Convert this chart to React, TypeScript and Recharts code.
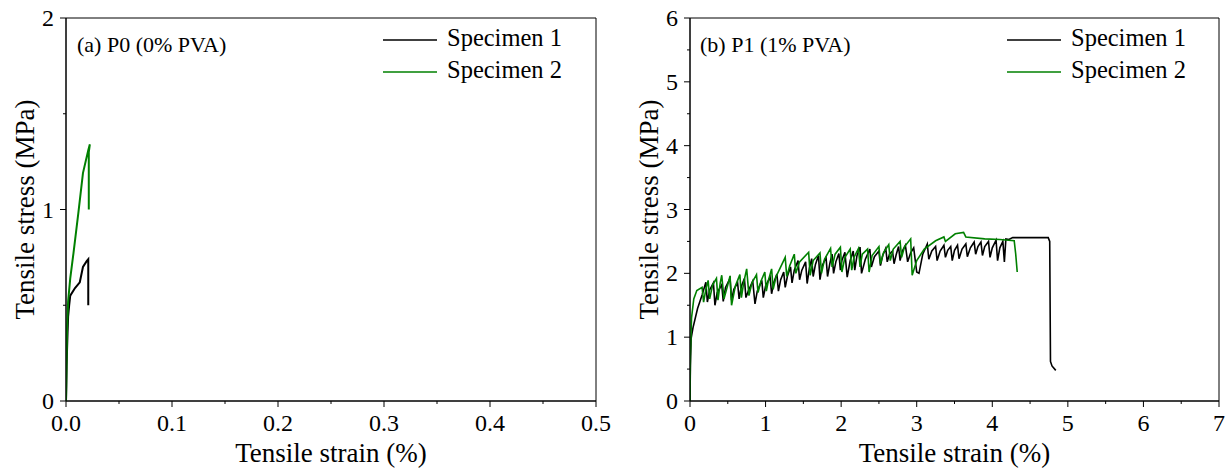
import React from 'react'
import { LineChart, Line, XAxis, YAxis, ReferenceArea } from 'recharts'

const FONT = '"Liberation Serif", "Times New Roman", serif'
const BLACK = '#000000'
const GREEN = '#008000'

const seriesNames = ['Specimen 1', 'Specimen 2']
const panelTitles = ['(a) P0 (0% PVA)', '(b) P1 (1% PVA)']

// [tensile strain (%), tensile stress (MPa)]
const p0Specimen1 = [
  [0, 0], [0.0003, 0.08], [0.0006, 0.18], [0.001, 0.27], [0.0015, 0.36], [0.002, 0.44],
  [0.003, 0.5], [0.004, 0.55], [0.0085, 0.59], [0.013, 0.62], [0.016, 0.7],
  [0.0195, 0.73], [0.021, 0.74], [0.021, 0.5],
]
const p0Specimen2 = [
  [0, 0], [0.0005, 0.2], [0.001, 0.38], [0.002, 0.52], [0.004, 0.64], [0.007, 0.77],
  [0.0116, 0.98], [0.016, 1.19], [0.021, 1.31], [0.0225, 1.34], [0.0215, 1.3], [0.0215, 1.0],
]
const p1Specimen1 = [
  [0, 0], [0.005, 0.55], [0.015, 0.98], [0.04, 1.15], [0.1, 1.45], [0.16, 1.66], [0.21, 1.86],
  [0.23, 1.55], [0.26, 1.74], [0.31, 1.85], [0.33, 1.5], [0.36, 1.7], [0.42, 1.82],
  [0.44, 1.56], [0.47, 1.78], [0.53, 1.92], [0.55, 1.58], [0.58, 1.75], [0.63, 1.85],
  [0.65, 1.6], [0.68, 1.8], [0.72, 1.92], [0.74, 1.62], [0.77, 1.72], [0.83, 1.88],
  [0.86, 1.52], [0.89, 1.72], [0.95, 1.89], [0.97, 1.62], [1.0, 1.8], [1.06, 1.94],
  [1.08, 1.68], [1.11, 1.86], [1.15, 1.99], [1.17, 1.72], [1.2, 1.9], [1.24, 2.02],
  [1.26, 1.78], [1.29, 1.96], [1.33, 2.1], [1.35, 1.85], [1.38, 2.05], [1.43, 2.2],
  [1.45, 1.9], [1.48, 2.05], [1.53, 2.18], [1.55, 1.84], [1.58, 2.08], [1.61, 2.23],
  [1.63, 1.95], [1.66, 2.14], [1.7, 2.28], [1.72, 1.9], [1.75, 2.12], [1.8, 2.25],
  [1.82, 1.95], [1.85, 2.15], [1.88, 2.3], [1.9, 2.0], [1.93, 2.18], [1.97, 2.31],
  [1.99, 2.05], [2.01, 2.2], [2.05, 2.33], [2.08, 1.94], [2.12, 2.2], [2.16, 2.35],
  [2.18, 2.05], [2.21, 2.28], [2.25, 2.41], [2.27, 2.0], [2.32, 2.22], [2.38, 2.38],
  [2.4, 2.1], [2.44, 2.26], [2.5, 2.35], [2.52, 2.12], [2.55, 2.28], [2.59, 2.39],
  [2.61, 2.18], [2.64, 2.3], [2.68, 2.35], [2.7, 2.15], [2.73, 2.3], [2.76, 2.42],
  [2.78, 2.2], [2.81, 2.35], [2.85, 2.44], [2.88, 2.18], [2.92, 2.32], [2.96, 2.4],
  [3.0, 2.02], [3.03, 2.0], [3.08, 2.3], [3.14, 2.46], [3.16, 2.22], [3.2, 2.35],
  [3.25, 2.42], [3.27, 2.2], [3.31, 2.35], [3.36, 2.44], [3.38, 2.25], [3.41, 2.36],
  [3.45, 2.42], [3.47, 2.2], [3.5, 2.36], [3.54, 2.44], [3.56, 2.23], [3.6, 2.38],
  [3.65, 2.46], [3.67, 2.26], [3.71, 2.4], [3.76, 2.49], [3.78, 2.3], [3.81, 2.42],
  [3.85, 2.49], [3.87, 2.28], [3.9, 2.42], [3.95, 2.5], [3.97, 2.25], [4.0, 2.4],
  [4.05, 2.52], [4.07, 2.2], [4.1, 2.4], [4.14, 2.5], [4.16, 2.18], [4.18, 2.54],
  [4.22, 2.53], [4.27, 2.56], [4.5, 2.56], [4.74, 2.56], [4.76, 2.5], [4.77, 0.62],
  [4.79, 0.55], [4.84, 0.48],
]
const p1Specimen2 = [
  [0, 0], [0.005, 0.7], [0.02, 1.3], [0.05, 1.6], [0.09, 1.73], [0.16, 1.78],
  [0.18, 1.55], [0.21, 1.75], [0.24, 1.89], [0.26, 1.6], [0.3, 1.82], [0.35, 1.92],
  [0.37, 1.58], [0.4, 1.85], [0.42, 1.97], [0.45, 1.6], [0.5, 1.82], [0.53, 1.96],
  [0.55, 1.5], [0.6, 1.8], [0.66, 1.98], [0.68, 1.62], [0.71, 1.85], [0.75, 2.07],
  [0.78, 1.65], [0.82, 1.85], [0.88, 1.98], [0.9, 1.7], [0.94, 1.88], [0.99, 2.02],
  [1.01, 1.72], [1.04, 1.9], [1.08, 2.07], [1.1, 1.75], [1.14, 1.95], [1.2, 2.1],
  [1.26, 2.25], [1.28, 1.95], [1.32, 2.12], [1.38, 2.3], [1.4, 2.0], [1.45, 2.18],
  [1.57, 2.33], [1.59, 1.97], [1.63, 2.2], [1.72, 2.32], [1.74, 2.0], [1.78, 2.22],
  [1.86, 2.39], [1.88, 2.1], [1.92, 2.3], [1.99, 2.41], [2.01, 2.02], [2.05, 2.25],
  [2.12, 2.38], [2.14, 2.05], [2.17, 2.25], [2.23, 2.39], [2.25, 2.1], [2.28, 2.3],
  [2.35, 2.38], [2.37, 2.02], [2.41, 2.28], [2.5, 2.42], [2.52, 2.15], [2.56, 2.32],
  [2.63, 2.45], [2.65, 2.2], [2.69, 2.38], [2.78, 2.5], [2.8, 2.25], [2.84, 2.42],
  [2.92, 2.54], [2.94, 1.97], [3.0, 2.2], [3.1, 2.38], [3.25, 2.51], [3.36, 2.57],
  [3.38, 2.5], [3.51, 2.62], [3.62, 2.64], [3.65, 2.57], [3.9, 2.54], [4.1, 2.53],
  [4.29, 2.51], [4.31, 2.3], [4.33, 2.02],
]

const p0StrainTicks = [0, 0.05, 0.1, 0.15, 0.2, 0.25, 0.3, 0.35, 0.4, 0.45, 0.5]
const p0StressTicks = [0, 0.5, 1, 1.5, 2]
const p1StrainTicks = [0, 0.5, 1, 1.5, 2, 2.5, 3, 3.5, 4, 4.5, 5, 5.5, 6, 6.5, 7]
const p1StressTicks = [0, 0.5, 1, 1.5, 2, 2.5, 3, 3.5, 4, 4.5, 5, 5.5, 6]

const toPoints = (rows: number[][]) => rows.map(([strain, stress]) => ({ strain, stress }))

const isMultiple = (v: number, step: number) => Math.abs(v / step - Math.round(v / step)) < 1e-6

const textStyle = { fontFamily: FONT }

const makeXTick = (step: number, digits: number) => (props: any) => {
  const { x, y, payload, index } = props
  const major = isMultiple(payload.value, step)
  return (
    <g key={`xt-${index}`}>
      <line x1={x} x2={x} y1={y} y2={y + (major ? 6 : 3)} stroke={BLACK} />
      {major && (
        <text x={x} y={y + 30} textAnchor="middle" fontSize={24} style={textStyle} fill={BLACK}>
          {payload.value.toFixed(digits)}
        </text>
      )}
    </g>
  )
}

const yTick = (props: any) => {
  const { x, y, payload, index } = props
  const major = isMultiple(payload.value, 1)
  return (
    <g key={`yt-${index}`}>
      <line x1={x} x2={x - (major ? 6 : 3)} y1={y} y2={y} stroke={BLACK} />
      {major && (
        <text x={x - 12} y={y + 8} textAnchor="end" fontSize={24} style={textStyle} fill={BLACK}>
          {payload.value}
        </text>
      )}
    </g>
  )
}

const xTitle = (props: any) => {
  const vb = props.viewBox
  return (
    <text x={vb.x + vb.width / 2} y={vb.y + 61} textAnchor="middle" fontSize={27} style={textStyle} fill={BLACK}>
      Tensile strain (%)
    </text>
  )
}

const yTitle = (props: any) => {
  const vb = props.viewBox
  const cx = vb.x + vb.width - 32
  const cy = vb.y + vb.height / 2
  return (
    <text
      x={cx}
      y={cy}
      transform={`rotate(-90 ${cx} ${cy})`}
      textAnchor="middle"
      fontSize={27}
      style={textStyle}
      fill={BLACK}
    >
      Tensile stress (MPa)
    </text>
  )
}

function Overlay({ title, titleX, legendX }: { title: string; titleX: number; legendX: number }) {
  return (
    <svg
      width="100%"
      height="100%"
      style={{ position: 'absolute', left: 0, top: 0, pointerEvents: 'none' }}
    >
      <text x={titleX} y={52} fontSize={22} style={textStyle} fill={BLACK}>
        {title}
      </text>
      {seriesNames.map((name, i) => (
        <g key={name}>
          <line
            x1={legendX}
            x2={legendX + 54}
            y1={40 + i * 32}
            y2={40 + i * 32}
            stroke={i === 0 ? BLACK : GREEN}
            strokeWidth={1.5}
          />
          <text x={legendX + 64} y={46 + i * 32} fontSize={24.5} style={textStyle} fill={BLACK}>
            {name}
          </text>
        </g>
      ))}
    </svg>
  )
}

function Panel({
  width,
  yAxisWidth,
  rightMargin,
  xMax,
  yMax,
  xTicks,
  yTicks,
  xStep,
  xDigits,
  series,
  lineWidth,
  title,
  titleX,
  legendX,
}: any) {
  return (
    <div style={{ position: 'relative', width, height: 470, flexShrink: 0 }}>
      <LineChart width={width} height={470} margin={{ top: 18, right: rightMargin, bottom: 2, left: 0 }}>
        <XAxis
          dataKey="strain"
          type="number"
          domain={[0, xMax]}
          ticks={xTicks}
          interval={0}
          allowDataOverflow
          height={67}
          tickSize={0}
          tickMargin={0}
          tickLine={false}
          tick={makeXTick(xStep, xDigits)}
          axisLine={{ stroke: BLACK }}
          label={xTitle}
        />
        <YAxis
          type="number"
          domain={[0, yMax]}
          ticks={yTicks}
          interval={0}
          allowDataOverflow
          width={yAxisWidth}
          tickSize={0}
          tickMargin={0}
          tickLine={false}
          tick={yTick}
          axisLine={{ stroke: BLACK }}
          label={yTitle}
        />
        <ReferenceArea x1={0} x2={xMax} y1={0} y2={yMax} fill="none" stroke={BLACK} strokeWidth={1} />
        {series.map((rows: number[][], i: number) => (
          <Line
            key={seriesNames[i]}
            name={seriesNames[i]}
            data={toPoints(rows)}
            dataKey="stress"
            type="linear"
            stroke={i === 0 ? BLACK : GREEN}
            strokeWidth={lineWidth}
            dot={false}
            isAnimationActive={false}
          />
        ))}
      </LineChart>
      <Overlay title={title} titleX={titleX} legendX={legendX} />
    </div>
  )
}

export default function App() {
  return (
    <div
      style={{
        position: 'absolute',
        left: 0,
        top: 0,
        width: 1229,
        height: 470,
        display: 'flex',
        background: '#fff',
        overflow: 'hidden',
      }}
    >
      <Panel
        width={620}
        yAxisWidth={66}
        rightMargin={24}
        xMax={0.5}
        yMax={2}
        xTicks={p0StrainTicks}
        yTicks={p0StressTicks}
        xStep={0.1}
        xDigits={1}
        series={[p0Specimen1, p0Specimen2]}
        lineWidth={2}
        title={panelTitles[0]}
        titleX={77}
        legendX={383}
      />
      <Panel
        width={609}
        yAxisWidth={70}
        rightMargin={10}
        xMax={7}
        yMax={6}
        xTicks={p1StrainTicks}
        yTicks={p1StressTicks}
        xStep={1}
        xDigits={0}
        series={[p1Specimen1, p1Specimen2]}
        lineWidth={1.6}
        title={panelTitles[1]}
        titleX={80}
        legendX={387}
      />
    </div>
  )
}
